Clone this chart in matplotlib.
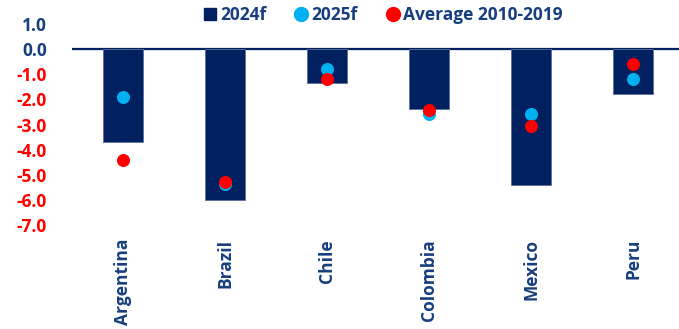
import matplotlib
matplotlib.use("Agg")
import matplotlib.pyplot as plt
from matplotlib.lines import Line2D
import numpy as np

countries = ["Argentina", "Brazil", "Chile", "Colombia", "Mexico", "Peru"]
f2024 = [-3.7, -6.0, -1.35, -2.4, -5.4, -1.8]
f2025 = [-1.9, -5.35, -0.8, -2.6, -2.6, -1.2]
avg_2010_2019 = [-4.4, -5.28, -1.2, -2.43, -3.05, -0.6]
yticks = [1.0, 0.0, -1.0, -2.0, -3.0, -4.0, -5.0, -6.0, -7.0]

NAVY = "#002060"
TXT = "#173f7e"
CYAN = "#00b0f0"
RED = "#ff0000"

plt.rcParams['font.family'] = ['Open Sans', 'DejaVu Sans']
plt.rcParams['font.weight'] = 'bold'

fig = plt.figure(figsize=(6.79, 3.29), dpi=100)
ax = fig.add_axes([72/679, (329-225)/329, 1 - 72/679, (225-24)/329])

x = np.arange(len(countries))
ax.bar(x, f2024, width=0.4, color=NAVY, edgecolor="#5a6f9a", linewidth=0.6, zorder=2)
ax.scatter(x, f2025, s=88, color=CYAN, zorder=3, linewidths=0)
ax.scatter(x, avg_2010_2019, s=88, color=RED, zorder=4, linewidths=0)
ax.axhline(0, color=NAVY, linewidth=1.6, zorder=1)

ax.set_xlim(-0.5, 5.45)
ax.set_ylim(-7, 1)
ax.set_yticks(yticks)
ax.set_yticklabels([f"{v:.1f}" for v in yticks], fontsize=12.5, fontweight='bold')
for lab, v in zip(ax.get_yticklabels(), yticks):
    lab.set_color(RED if v < 0 else TXT)
ax.tick_params(axis='y', length=0, pad=18)
ax.set_xticks(x)
ax.set_xticklabels(countries, rotation=90, fontsize=12.5, fontweight='bold', color=TXT, va='top')
ax.tick_params(axis='x', length=0, pad=10)
for s in ax.spines.values():
    s.set_visible(False)

handles = [
    Line2D([], [], marker='s', linestyle='none', color=NAVY, markersize=9),
    Line2D([], [], marker='o', linestyle='none', color=CYAN, markersize=10),
    Line2D([], [], marker='o', linestyle='none', color=RED, markersize=10),
]
leg = fig.legend(handles, ["2024f", "2025f", "Average 2010-2019"], loc='center',
                 bbox_to_anchor=(382/679, 1 - 15/329), ncol=3, frameon=False,
                 fontsize=12.5, handletextpad=0.1, columnspacing=1.5, handlelength=1.0)
for t in leg.get_texts():
    t.set_color(TXT)
    t.set_fontweight('bold')

fig.savefig("out.png", dpi=100)
